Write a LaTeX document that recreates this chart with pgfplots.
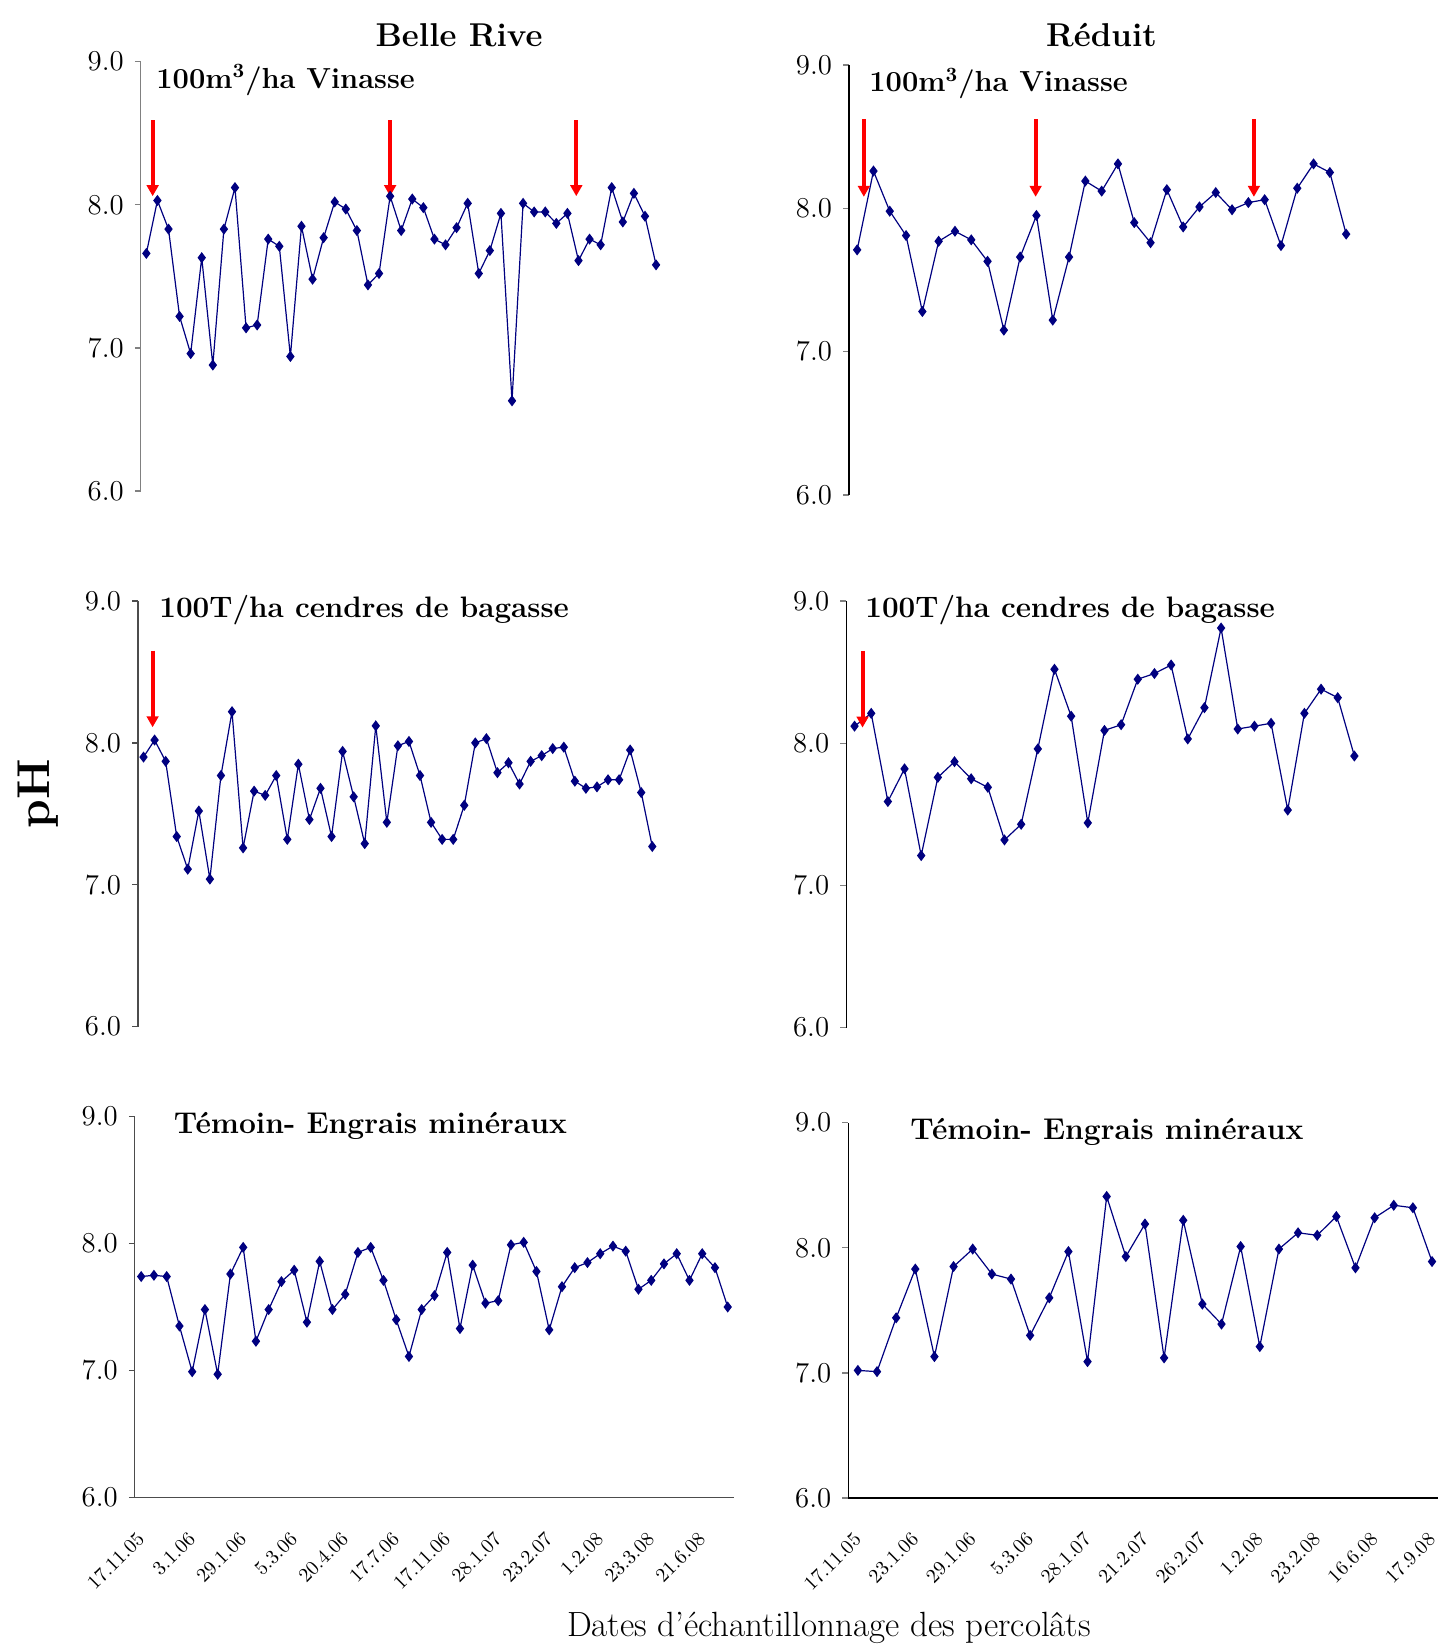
\documentclass[border=0pt]{standalone}
\usepackage{fontspec}
\usepackage{pgfplots}
\pgfplotsset{compat=1.18}
\usepackage{pgfplotstable}
\usetikzlibrary{arrows.meta}

\definecolor{navy}{RGB}{0,0,128}

% pH values, one column per panel
\pgfplotstableread{
ph
7.66
8.03
7.83
7.22
6.96
7.63
6.88
7.83
8.12
7.14
7.16
7.76
7.71
6.94
7.85
7.48
7.77
8.02
7.97
7.82
7.44
7.52
8.06
7.82
8.04
7.98
7.76
7.72
7.84
8.01
7.52
7.68
7.94
6.63
8.01
7.95
7.95
7.87
7.94
7.61
7.76
7.72
8.12
7.88
8.08
7.92
7.58
}\brvin

\pgfplotstableread{
ph
7.71
8.26
7.98
7.81
7.28
7.77
7.84
7.78
7.63
7.15
7.66
7.95
7.22
7.66
8.19
8.12
8.31
7.90
7.76
8.13
7.87
8.01
8.11
7.99
8.04
8.06
7.74
8.14
8.31
8.25
7.82
}\revin

\pgfplotstableread{
ph
7.90
8.02
7.87
7.34
7.11
7.52
7.04
7.77
8.22
7.26
7.66
7.63
7.77
7.32
7.85
7.46
7.68
7.34
7.94
7.62
7.29
8.12
7.44
7.98
8.01
7.77
7.44
7.32
7.32
7.56
8.00
8.03
7.79
7.86
7.71
7.87
7.91
7.96
7.97
7.73
7.68
7.69
7.74
7.74
7.95
7.65
7.27
}\brcen

\pgfplotstableread{
ph
8.12
8.21
7.59
7.82
7.21
7.76
7.87
7.75
7.69
7.32
7.43
7.96
8.52
8.19
7.44
8.09
8.13
8.45
8.49
8.55
8.03
8.25
8.81
8.10
8.12
8.14
7.53
8.21
8.38
8.32
7.91
}\recen

\pgfplotstableread{
ph
7.74
7.75
7.74
7.35
6.99
7.48
6.97
7.76
7.97
7.23
7.48
7.70
7.79
7.38
7.86
7.48
7.60
7.93
7.97
7.71
7.40
7.11
7.48
7.59
7.93
7.33
7.83
7.53
7.55
7.99
8.01
7.78
7.32
7.66
7.81
7.85
7.92
7.98
7.94
7.64
7.71
7.84
7.92
7.71
7.92
7.81
7.50
}\brtem

\pgfplotstableread{
ph
7.02
7.01
7.44
7.83
7.13
7.85
7.99
7.79
7.75
7.30
7.60
7.97
7.09
8.41
7.93
8.19
7.12
8.22
7.55
7.39
8.01
7.21
7.99
8.12
8.10
8.25
7.84
8.24
8.34
8.32
7.89
}\retem

\pgfplotsset{
  panel/.style={
    scale only axis, anchor=south west, clip=false,
    xmin=0.5, ymin=6, ymax=9, ytick={6,7,8,9},
    axis y line*=left, axis line style={-, line width=0.65pt},
    tick align=outside, major tick length=3pt,
    ytick style={line width=0.65pt},
    xtick style={draw=none},
    yticklabel style={font=\fontsize{14}{14}\selectfont, xshift=-2pt,
      /pgf/number format/fixed, /pgf/number format/fixed zerofill,
      /pgf/number format/precision=1},
  },
  toppanel/.style={panel, axis x line=none, xtick=\empty},
  botpanel/.style={panel, axis x line*=bottom,
    xticklabel style={yshift=-16pt, rotate=45, anchor=east, inner sep=0pt,
      font=\fontsize{10}{10}\selectfont}},
  phline/.style={navy, line width=0.6pt, mark=diamond*, mark size=2.3pt,
    mark options={fill=navy, draw=navy}},
}
\tikzset{dose/.style={red, line width=2pt, -{Triangle[width=5.8pt, length=5.5pt]}}}

\begin{document}
\begin{tikzpicture}
\useasboundingbox (0,0) rectangle (718.5pt,823.5pt);

% Belle Rive - vinasse
\begin{axis}[toppanel, at={(70.4pt,578pt)}, width=260.4pt, height=214.65pt,
  xmax=47.5, y axis line style={draw=gray}, ytick style={draw=gray}]
  \addplot[phline] table[x expr=\coordindex+1, y=ph] {\brvin};
  \draw[dose] (axis cs:1.57,8.59) -- (axis cs:1.57,8.06);
  \draw[dose] (axis cs:23,8.59) -- (axis cs:23,8.06);
  \draw[dose] (axis cs:39.8,8.59) -- (axis cs:39.8,8.06);
\end{axis}

% Reduit - vinasse
\begin{axis}[toppanel, at={(424.5pt,576pt)}, width=252.65pt, height=215pt,
  xmax=31.5]
  \addplot[phline] table[x expr=\coordindex+1, y=ph] {\revin};
  \draw[dose] (axis cs:1.41,8.62) -- (axis cs:1.41,8.08);
  \draw[dose] (axis cs:11.95,8.62) -- (axis cs:11.95,8.08);
  \draw[dose] (axis cs:25.34,8.62) -- (axis cs:25.34,8.08);
\end{axis}

% Belle Rive - cendres
\begin{axis}[toppanel, at={(69pt,310.15pt)}, width=259.9pt, height=212.85pt,
  xmax=47.5, y axis line style={draw=black!70}, ytick style={draw=black!70}]
  \addplot[phline] table[x expr=\coordindex+1, y=ph] {\brcen};
  \draw[dose] (axis cs:1.82,8.65) -- (axis cs:1.82,8.11);
\end{axis}

% Reduit - cendres
\begin{axis}[toppanel, at={(423.1pt,309.65pt)}, width=258.25pt, height=213.35pt,
  xmax=31.5]
  \addplot[phline] table[x expr=\coordindex+1, y=ph] {\recen};
  \draw[dose] (axis cs:1.48,8.65) -- (axis cs:1.48,8.11);
\end{axis}

% Belle Rive - temoin
\begin{axis}[botpanel, at={(67.4pt,74.85pt)}, width=299.65pt, height=190.3pt,
  xmax=47.5, axis line style={draw=black!70}, ytick style={draw=black!70},
  xtick={1,5,9,13,17,21,25,29,33,37,41,45},
  xticklabels={17.11.05,3.1.06,29.1.06,5.3.06,20.4.06,17.7.06,17.11.06,28.1.07,23.2.07,1.2.08,23.3.08,21.6.08}]
  \addplot[phline] table[x expr=\coordindex+1, y=ph] {\brtem};
\end{axis}

% Reduit - temoin
\begin{axis}[botpanel, at={(424.15pt,74.5pt)}, width=296.65pt, height=187.65pt,
  xmax=31.5,
  xtick={1,4,7,10,13,16,19,22,25,28,31},
  xticklabels={17.11.05,23.1.06,29.1.06,5.3.06,28.1.07,21.2.07,26.2.07,1.2.08,23.2.08,16.6.08,17.9.08}]
  \addplot[phline] table[x expr=\coordindex+1, y=ph] {\retem};
\end{axis}

% titles and labels
\begin{scope}[every node/.style={inner sep=0pt}]
  \node[anchor=base, font=\bfseries\fontsize{16.5}{16.5}\selectfont] at (229.5pt,800pt) {Belle Rive};
  \node[anchor=base, font=\bfseries\fontsize{16.5}{16.5}\selectfont] at (550.75pt,800pt) {Réduit};
  \node[anchor=base west, font=\bfseries\fontsize{14.5}{14.5}\selectfont] at (78pt,779.35pt) {100m\textsuperscript{3}/ha Vinasse};
  \node[anchor=base west, font=\bfseries\fontsize{14.5}{14.5}\selectfont] at (434.5pt,777.65pt) {100m\textsuperscript{3}/ha Vinasse};
  \node[anchor=base west, font=\bfseries\fontsize{14.8}{14.8}\selectfont] at (79.5pt,514.65pt) {100T/ha cendres de bagasse};
  \node[anchor=base west, font=\bfseries\fontsize{14.8}{14.8}\selectfont] at (432.5pt,514.65pt) {100T/ha cendres de bagasse};
  \node[anchor=base west, font=\bfseries\fontsize{15}{15}\selectfont] at (86.75pt,256.85pt) {Témoin- Engrais minéraux};
  \node[anchor=base west, font=\bfseries\fontsize{15}{15}\selectfont] at (455pt,253.85pt) {Témoin- Engrais minéraux};
  \node[rotate=90, font=\bfseries\fontsize{23}{23}\selectfont] at (19pt,426.5pt) {pH};
  \node[anchor=base, font=\fontsize{17.5}{17.5}\selectfont] at (414.5pt,5.15pt) {Dates d’échantillonnage des percolâts};
\end{scope}
\end{tikzpicture}
\end{document}
